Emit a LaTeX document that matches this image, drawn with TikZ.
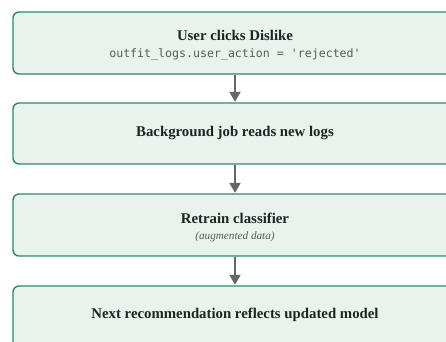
\documentclass[tikz,border=0pt]{standalone}
\usepackage{fontspec}
\setmainfont{Liberation Serif}
\setmonofont{DejaVu Sans Mono}
\usepackage{xcolor}
\usetikzlibrary{arrows.meta,calc,positioning}
\definecolor{boxline}{RGB}{42,138,112}
\definecolor{boxfill}{RGB}{232,243,237}
\definecolor{arrowgray}{RGB}{102,102,102}
\definecolor{titletext}{RGB}{34,34,34}
\definecolor{subtext}{RGB}{90,90,90}
\tikzset{%
	stepbox/.style = {draw=boxline, fill=boxfill, line width=1.4pt, rectangle, rounded corners=6pt, minimum width=444pt, minimum height=62pt, inner sep=0pt},
	title/.style   = {font=\fontsize{14.8}{17}\selectfont\bfseries, text=titletext, inner sep=0pt},
	code/.style    = {font=\fontsize{11.6}{13}\selectfont\ttfamily, text=subtext, inner sep=0pt},
	note/.style    = {font=\fontsize{11.2}{13}\selectfont\itshape, text=subtext, inner sep=0pt},
	arrow/.style   = {draw=arrowgray, line width=2pt, -{Triangle[length=10pt,width=11pt]}, shorten >=0.5pt},
}

\begin{document}
\begin{tikzpicture}[x=1pt,y=-1pt]
	\useasboundingbox (0,0) rectangle (446,341);
	\clip (0,0) rectangle (446,341);
	% boxes
	\node[stepbox] (click) at (235,43) {};
	\node[stepbox, minimum height=61pt] (job) at (235,133.5) {};
	\node[stepbox] (train) at (235,225) {};
	\node[stepbox] (next) at (235,317) {};
	% texts
	\node[title] (clicktitle) at (235,35) {User clicks Dislike};
	\node[code] (clickcode) at (235,54) {outfit\_logs.user\_action = 'rejected'};
	\node[title] (jobtitle) at (235,133) {Background job reads new logs};
	\node[title] (traintitle) at (235,218) {Retrain classifier};
	\node[note] (trainnote) at (235,237) {(augmented data)};
	\node[title] (nexttitle) at (235,315) {Next recommendation reflects updated model};
	% flow
	\draw[arrow] (click.south) -- (job.north);
	\draw[arrow] (job.south) -- (train.north);
	\draw[arrow] (train.south) -- (next.north);
\end{tikzpicture}
\end{document}
